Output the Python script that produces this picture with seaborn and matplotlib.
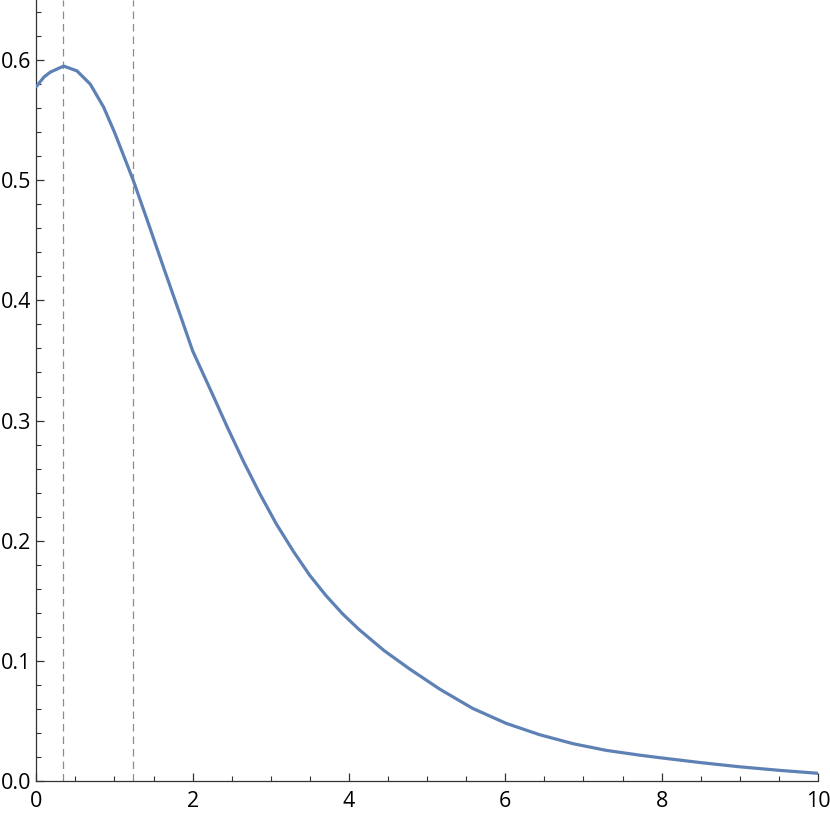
import matplotlib
matplotlib.use("Agg")
import matplotlib.pyplot as plt
import seaborn as sns
import pandas as pd
from matplotlib.ticker import MultipleLocator, FuncFormatter

x_vals = [0.0, 0.1, 0.18, 0.35, 0.52, 0.69, 0.86, 1.0, 1.24, 1.45, 1.63, 1.84,
          2.0, 2.26, 2.44, 2.65, 2.86, 3.07, 3.29, 3.5, 3.71, 3.92, 4.13, 4.45,
          4.77, 5.16, 5.58, 6.01, 6.44, 6.87, 7.29, 7.72, 8.0, 8.5, 9.0, 9.5, 10.0]
y_vals = [0.578, 0.586, 0.590, 0.595, 0.591, 0.580, 0.561, 0.540, 0.500, 0.461,
          0.427, 0.388, 0.358, 0.321, 0.295, 0.266, 0.239, 0.214, 0.191, 0.171,
          0.154, 0.139, 0.126, 0.1085, 0.0935, 0.0765, 0.0605, 0.048, 0.0385, 0.031,
          0.0255, 0.0215, 0.0192, 0.0153, 0.0118, 0.0089, 0.0064]
vlines = [0.345, 1.24]

df = pd.DataFrame({"x": x_vals, "y": y_vals})

sns.set_style("ticks")
plt.rcParams["font.family"] = ["Open Sans", "DejaVu Sans"]

W, H = 830, 819
fig = plt.figure(figsize=(W / 100, H / 100), dpi=100)
ax = fig.add_axes([36.3 / W, (H - 781) / H, (818 - 36.3) / W, 781 / H])

for xv in vlines:
    ax.axvline(xv, color="#8c8c8c", lw=0.9, ls=(0, (6, 4)), zorder=1)

sns.lineplot(data=df, x="x", y="y", ax=ax, color="#5E81B5", lw=2.3, zorder=3)

ax.set_xlim(0, 10)
ax.set_ylim(0, 0.65)
ax.xaxis.set_major_locator(MultipleLocator(2))
ax.xaxis.set_minor_locator(MultipleLocator(0.5))
ax.yaxis.set_major_locator(MultipleLocator(0.1))
ax.yaxis.set_minor_locator(MultipleLocator(0.02))
ax.xaxis.set_major_formatter(FuncFormatter(lambda v, p: f"{v:.0f}"))
ax.yaxis.set_major_formatter(FuncFormatter(lambda v, p: f"{v:.1f}"))

ax.tick_params(axis="both", which="major", direction="in", length=6, width=0.9,
               color="#333333", labelsize=15.5, labelcolor="black")
ax.tick_params(axis="y", which="major", pad=3.5)
ax.tick_params(axis="x", which="major", pad=7)
ax.tick_params(axis="both", which="minor", direction="in", length=3.5, width=0.8,
               color="#333333")
ax.set_xlabel("")
ax.set_ylabel("")
for s in ["top", "right"]:
    ax.spines[s].set_visible(False)
for s in ["left", "bottom"]:
    ax.spines[s].set_color("#333333")
    ax.spines[s].set_linewidth(0.9)
ax.patch.set_alpha(0)

fig.savefig("out.png", dpi=100)
